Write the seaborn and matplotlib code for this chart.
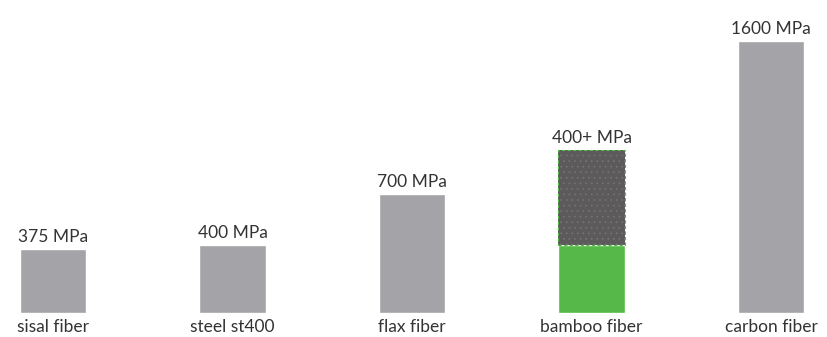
import matplotlib
matplotlib.use("Agg")
import matplotlib.pyplot as plt
import seaborn as sns
import pandas as pd

categories = ["sisal fiber", "steel st400", "flax fiber", "bamboo fiber", "carbon fiber"]
strength = [375, 400, 700, 400, 1600]
extra = [0, 0, 0, 560, 0]
value_labels = ["375 MPa", "400 MPa", "700 MPa", "400+ MPa", "1600 MPa"]

sns.set_theme(style="white")
plt.rcParams["font.family"] = ["Lato", "DejaVu Sans"]
plt.rcParams["hatch.linewidth"] = 0.6

gray = "#a4a3a7"
green = "#55b848"
dark = "#5c5a5b"
hatch_c = "#737172"
text_c = "#333333"

df = pd.DataFrame({"cat": categories, "val": strength})
palette = {c: (green if c == "bamboo fiber" else gray) for c in categories}

fig = plt.figure(figsize=(8.28, 3.37), dpi=100)
ax = fig.add_axes([0, 24 / 337, 1, 313 / 337])
sns.barplot(data=df, x="cat", y="val", hue="cat", palette=palette, dodge=False,
            width=0.37, legend=False, ax=ax, saturation=1)

xs = list(range(len(categories)))
ex_x = [x for x, e in zip(xs, extra) if e > 0]
ex_v = [e for e in extra if e > 0]
ex_b = [s for s, e in zip(strength, extra) if e > 0]
ax.bar(ex_x, ex_v, bottom=ex_b, width=0.37, facecolor=dark, edgecolor=hatch_c,
       linewidth=0, hatch="...")
ax.bar(ex_x, ex_v, bottom=ex_b, width=0.37, facecolor="none", edgecolor=green,
       linestyle=(0, (3, 2)), linewidth=0.8)

for x, v, e, lab in zip(xs, strength, extra, value_labels):
    ax.text(x, v + e + 25, lab, ha="center", va="bottom", fontsize=12.5, color=text_c)

ax.set_xlim(-53 / 179.5, (828 - 53) / 179.5)
ax.set_ylim(0, 1841)
ax.set_xlabel("")
ax.set_ylabel("")
ax.set_yticks([])
ax.set_xticks(xs)
ax.set_xticklabels(categories, fontsize=12.5, color=text_c)
ax.tick_params(axis="x", length=0, pad=4)
for s in ax.spines.values():
    s.set_visible(False)

fig.savefig("out.png", dpi=100)
